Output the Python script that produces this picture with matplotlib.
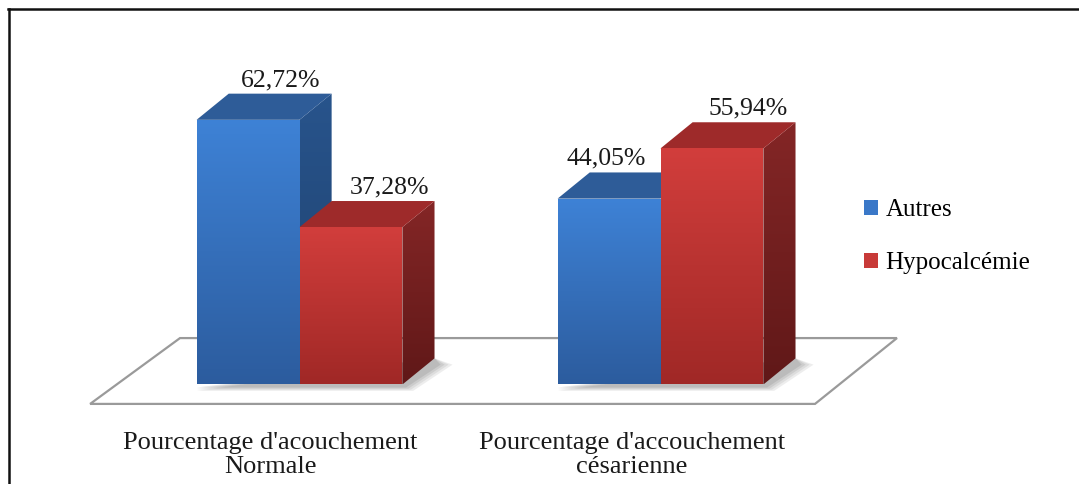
import matplotlib.pyplot as plt
import numpy as np
from matplotlib.patches import Polygon, Patch
from matplotlib.lines import Line2D

plt.rcParams['font.family'] = ['Liberation Serif', 'DejaVu Serif']

categories = ["Pourcentage d'acouchement\nNormale", "Pourcentage d'accouchement\ncésarienne"]
series = ["Autres", "Hypocalcémie"]
autres = [62.72, 44.05]
hypocalcemie = [37.28, 55.94]
values = [autres, hypocalcemie]

# colours (rgb 0-255): front top, front bottom, side top, side bottom, top face
palette = {
    "Autres": dict(front=((62, 130, 214), (44, 92, 158)), side=((40, 84, 140), (30, 64, 108)),
                   top=(46, 92, 152), legend="#3a78c8"),
    "Hypocalcémie": dict(front=((210, 62, 60), (160, 40, 38)), side=((132, 38, 38), (96, 24, 24)),
                         top=(158, 42, 42), legend="#c83a38"),
}

xs = np.arange(len(categories))
bar_w = 0.285
depth_x, depth_y = 0.089, 6.2
label_nudge = [[0.0, -0.098], [0.018, 0.01]]


def gradient_poly(ax, verts, c_top, c_bottom, zorder):
    poly = Polygon(verts, closed=True, facecolor='none', edgecolor='none', zorder=zorder)
    ax.add_patch(poly)
    px, py = zip(*verts)
    t = np.linspace(0, 1, 200)[:, None, None]
    c0 = np.array(c_top, float) / 255
    c1 = np.array(c_bottom, float) / 255
    img = c0 * (1 - t) + c1 * t
    im = ax.imshow(img, extent=(min(px), max(px), min(py), max(py)), origin='upper',
                   aspect='auto', interpolation='bilinear', zorder=zorder)
    im.set_clip_path(poly)


fig = plt.figure(figsize=(10.79, 4.84), dpi=100)
ax = fig.add_axes([0, 0, 1, 1])
ax.set_axis_off()

# floor
fl_back, fl_front = 11.0, -4.6
floor = Polygon([(xs[0] - 0.331, fl_back), (xs[-1] + 0.655, fl_back),
                 (xs[-1] + 0.428, fl_front), (xs[0] - 0.580, fl_front)],
                closed=True, facecolor='white', edgecolor='#9a9a9a', lw=1.6, zorder=1)
ax.add_patch(floor)

z = 5
for g, xc in enumerate(xs):
    # soft shadow on the floor
    x_end = xc + bar_w
    for k, a in enumerate([0.10, 0.10, 0.12, 0.14]):
        s = 1 - k * 0.22
        sh = Polygon([(xc - bar_w, -0.3 - 1.2 * s), (x_end + 0.03 * s, -0.3 - 1.2 * s),
                      (x_end + depth_x + 0.05 * s, depth_y - 1.5), (x_end + depth_x, depth_y)],
                     closed=True, facecolor='#555555', edgecolor='none', alpha=a, zorder=2)
        ax.add_patch(sh)
    for i, name in enumerate(series):
        v = values[i][g]
        c = palette[name]
        x0 = xc - bar_w + i * bar_w
        x1 = x0 + bar_w
        gradient_poly(ax, [(x1, 0), (x1 + depth_x, depth_y), (x1 + depth_x, v + depth_y), (x1, v)],
                      c["side"][0], c["side"][1], z)
        ax.add_patch(Polygon([(x0, v), (x0 + depth_x, v + depth_y), (x1 + depth_x, v + depth_y), (x1, v)],
                             closed=True, facecolor=np.array(c["top"]) / 255, edgecolor='none', zorder=z + 1))
        front = ax.bar(x0, v, width=bar_w, align='edge', color='none', zorder=z + 2)
        gradient_poly(ax, [(x0, 0), (x1, 0), (x1, v), (x0, v)], c["front"][0], c["front"][1], z + 2)
        txt = f"{v:.2f}%".replace('.', ',')
        ax.text(x0 + bar_w / 2 + depth_x + label_nudge[i][g], v + depth_y + 3.2, txt,
                ha='center', va='center', fontsize=18.5, color='#1a1a1a', zorder=20)
        z += 3

# category labels along the floor front edge
for xc, lab in zip(xs, categories):
    ax.text(xc - 0.08, fl_front - 6.6, lab, ha='center', va='top', fontsize=19,
            color='#1a1a1a', linespacing=1.12)

handles = [Patch(facecolor=palette[n]["legend"], edgecolor='none') for n in series]
fig.legend(handles, series, loc='center left', bbox_to_anchor=(0.801, 0.511),
           frameon=False, fontsize=18, handlelength=0.55, handleheight=0.55,
           handletextpad=0.3, labelspacing=1.25, borderpad=0, borderaxespad=0)

ax.set_xlim(-299.5 / 361, (1079 - 299.5) / 361)
ax.set_ylim(-99.5 / 4.22, 384.5 / 4.22)

# outer frame (top and left edges)
fig.add_artist(Line2D([8 / 1079, 1], [1 - 9 / 484] * 2, color='#111111', lw=1.8))
fig.add_artist(Line2D([9 / 1079] * 2, [0, 1 - 9 / 484], color='#111111', lw=1.8))

fig.savefig('out.png', dpi=100)
